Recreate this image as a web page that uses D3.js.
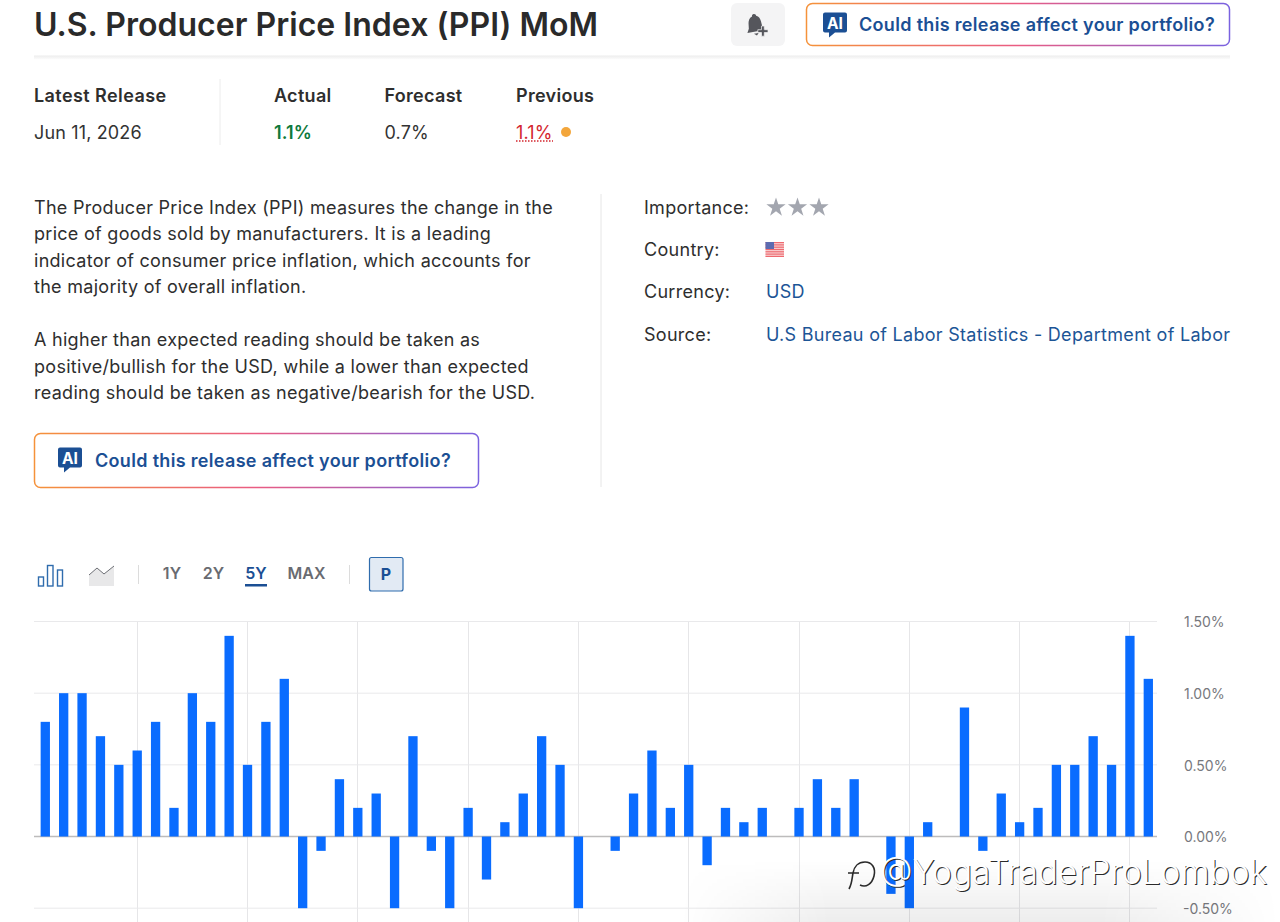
<!DOCTYPE html>
<html>
<head>
<meta charset="utf-8">
<script src="https://cdn.jsdelivr.net/npm/d3@7"></script>
<style>
  html, body { margin: 0; padding: 0; background: #fff; }
  svg { display: block; font-family: Inter, "Noto Sans", sans-serif; }
</style>
</head>
<body>
<svg id="page" width="1280" height="922"></svg>
<script>
// Monthly PPI change, May 2021 to May 2026
const months = [
  "May 21","Jun 21","Jul 21","Aug 21","Sep 21","Oct 21","Nov 21","Dec 21",
  "Jan 22","Feb 22","Mar 22","Apr 22","May 22","Jun 22","Jul 22","Aug 22","Sep 22","Oct 22","Nov 22","Dec 22",
  "Jan 23","Feb 23","Mar 23","Apr 23","May 23","Jun 23","Jul 23","Aug 23","Sep 23","Oct 23","Nov 23","Dec 23",
  "Jan 24","Feb 24","Mar 24","Apr 24","May 24","Jun 24","Jul 24","Aug 24","Sep 24","Oct 24","Nov 24","Dec 24",
  "Jan 25","Feb 25","Mar 25","Apr 25","May 25","Jun 25","Jul 25","Aug 25","Sep 25","Oct 25","Nov 25","Dec 25",
  "Jan 26","Feb 26","Mar 26","Apr 26","May 26"
];
const ppiValues = [
  0.8,1.0,1.0,0.7,0.5,0.6,0.8,0.2,
  1.0,0.8,1.4,0.5,0.8,1.1,-0.5,-0.1,0.4,0.2,0.3,-0.5,
  0.7,-0.1,-0.5,0.2,-0.3,0.1,0.3,0.7,0.5,-0.5,0,-0.1,
  0.3,0.6,0.2,0.5,-0.2,0.2,0.1,0.2,0,0.2,0.4,0.2,
  0.4,0,-0.4,-0.5,0.1,0,0.9,-0.1,0.3,0.1,0.2,0.5,
  0.5,0.7,0.5,1.4,1.1
];
const yTicks = [-0.5, 0, 0.5, 1.0, 1.5];
const gridMonths = ["Oct 21","Apr 22","Oct 22","Apr 23","Oct 23","Apr 24","Oct 24","Apr 25","Oct 25","Apr 26"];

const releaseColumns = [
  { head: "Latest Release", val: "Jun 11, 2026", x: 34, color: "#333", headSpacing: 0.42 },
  { head: "Actual", val: "1.1%", x: 274, color: "#0f7a3d", weight: 600, headSpacing: 0.3 },
  { head: "Forecast", val: "0.7%", x: 384.5, color: "#333", headSpacing: 0.3 },
  { head: "Previous", val: "1.1%", x: 516, color: "#d3262e", headSpacing: 0.3 }
];
const description = [
  ["The Producer Price Index (PPI) measures the change in the", 213.5],
  ["price of goods sold by manufacturers. It is a leading", 239.5],
  ["indicator of consumer price inflation, which accounts for", 266.5],
  ["the majority of overall inflation.", 292.5],
  ["A higher than expected reading should be taken as", 346],
  ["positive/bullish for the USD, while a lower than expected", 372.5],
  ["reading should be taken as negative/bearish for the USD.", 399]
];
const facts = [
  ["Importance:", 213.5, null],
  ["Country:", 256, null],
  ["Currency:", 298, "USD"],
  ["Source:", 340.5, "U.S Bureau of Labor Statistics - Department of Labor"]
];
const ranges = [["1Y", 172], ["2Y", 213.5], ["5Y", 256], ["MAX", 306.5]];

const ink = "#2e2e2e", linkBlue = "#1c5596", navy = "#1b4f94";
const svg = d3.select("#page");
const defs = svg.append("defs");

const grad = defs.append("linearGradient").attr("id", "aiBorder");
[["0%", "#f5923a"], ["50%", "#ea5c83"], ["100%", "#7a62e0"]].forEach(([o, c]) =>
  grad.append("stop").attr("offset", o).attr("stop-color", c));

const fade = defs.append("linearGradient").attr("id", "cornerShade")
  .attr("x1", 0).attr("y1", 0).attr("x2", 0).attr("y2", 1);
fade.append("stop").attr("offset", "0%").attr("stop-color", "#000").attr("stop-opacity", 0);
fade.append("stop").attr("offset", "100%").attr("stop-color", "#000").attr("stop-opacity", 0.07);
const fadeSide = defs.append("linearGradient").attr("id", "cornerMaskFill");
fadeSide.append("stop").attr("offset", "0%").attr("stop-color", "#000");
fadeSide.append("stop").attr("offset", "25%").attr("stop-color", "#fff");
fadeSide.append("stop").attr("offset", "70%").attr("stop-color", "#fff");
fadeSide.append("stop").attr("offset", "100%").attr("stop-color", "#000");
defs.append("mask").attr("id", "cornerMask").attr("maskUnits", "userSpaceOnUse")
  .attr("x", 680).attr("y", 860).attr("width", 600).attr("height", 62)
  .append("rect").attr("x", 680).attr("y", 860).attr("width", 600).attr("height", 62)
  .attr("fill", "url(#cornerMaskFill)");

const headerShade = defs.append("linearGradient").attr("id", "headerShade")
  .attr("x1", 0).attr("y1", 0).attr("x2", 0).attr("y2", 1);
headerShade.append("stop").attr("offset", "0%").attr("stop-color", "#ececec");
headerShade.append("stop").attr("offset", "100%").attr("stop-color", "#fdfdfd");

function text(parent, str, x, y, size, color, weight, spacing) {
  return parent.append("text").attr("x", x).attr("y", y)
    .attr("font-size", size).attr("fill", color).attr("font-weight", weight || 400)
    .attr("letter-spacing", spacing || 0).text(str);
}

// Speech-bubble badge used on both call-to-action buttons
function aiBadge(x, y) {
  const g = svg.append("g").attr("transform", `translate(${x},${y})`);
  g.append("path").attr("fill", navy)
    .attr("d", "M2 0H22a2 2 0 0 1 2 2V18a2 2 0 0 1-2 2H12L6 25V20H2a2 2 0 0 1-2-2V2a2 2 0 0 1 2-2Z");
  text(g, "AI", 12, 16, 15.5, "#fff", 700).attr("text-anchor", "middle");
}
function aiButton(x, y, w, h, tx, ty, bx, by) {
  svg.append("rect").attr("x", x).attr("y", y).attr("width", w).attr("height", h)
    .attr("rx", 6).attr("fill", "#fff").attr("stroke", "url(#aiBorder)").attr("stroke-width", 1.5);
  aiBadge(bx, by);
  text(svg, "Could this release affect your portfolio?", tx, ty, 18, navy, 600, 0.32);
}

// Header
text(svg, "U.S. Producer Price Index (PPI) MoM", 34, 36, 32, "#2a2a2a", 600, 0.03);
svg.append("rect").attr("x", 731).attr("y", 3).attr("width", 54).attr("height", 43)
  .attr("rx", 6).attr("fill", "#f4f4f5");
const bell = svg.append("g").attr("transform", "translate(746,14)").attr("fill", "#55565c");
bell.append("g").attr("transform", "rotate(-10 9 10) scale(1.05)").call(b => {
  b.append("path").attr("d", "M9 0c1.3 0 2 1 2 2 2.6 1 3.4 3.6 3.6 6l.4 5 2 3.6H0l2-3.6.6-5C3 5.6 4 3 7 2c0-1 .7-2 2-2Z");
  b.append("path").attr("d", "M6 18.5h4.5l-2 2.2Z");
});
bell.append("path").attr("d", "M15.5 12h2.8v3.7h3.7v2.8h-3.7v3.7h-2.8v-3.7h-3.7v-2.8h3.7Z")
  .attr("stroke", "#f4f4f5").attr("stroke-width", 0.7);
aiButton(806.5, 3.5, 423, 42, 859, 31, 823, 12.5);
svg.append("rect").attr("x", 34).attr("y", 55.5).attr("width", 1196).attr("height", 4).attr("fill", "url(#headerShade)");

// Latest release row
svg.append("line").attr("x1", 220).attr("x2", 220).attr("y1", 79).attr("y2", 145).attr("stroke", "#ececec");
releaseColumns.forEach(c => {
  text(svg, c.head, c.x, 101.5, 18, ink, 600, c.headSpacing);
  text(svg, c.val, c.x, 139, 18, c.color, c.weight, 0.15);
});
svg.append("line").attr("x1", 516).attr("x2", 553).attr("y1", 141).attr("y2", 141)
  .attr("stroke", "#d3262e").attr("stroke-width", 1.3).attr("stroke-dasharray", "1.5 1.5");
svg.append("circle").attr("cx", 566).attr("cy", 132).attr("r", 5).attr("fill", "#f3a63b");

// Description
description.forEach(([line, y]) => text(svg, line, 34, y, 18, ink, 400, 0.285));
svg.append("line").attr("x1", 601).attr("x2", 601).attr("y1", 194).attr("y2", 487).attr("stroke", "#e6e6e6");
aiButton(34.5, 433.5, 444, 54, 95, 467, 58, 447.5);

// Facts column
facts.forEach(([label, y, value]) => {
  text(svg, label, 644, y, 18, ink, 400, 0.29);
  if (value) text(svg, value, 766, y, 18, linkBlue, 400, 0.29);
});
[776, 797.5, 819].forEach(cx => {
  svg.append("path").attr("transform", `translate(${cx},207.5)`)
    .attr("d", d3.symbol(d3.symbolStar, 115)()).attr("fill", "#a3a6af");
});
const flag = svg.append("g").attr("transform", "translate(765.5,242)");
flag.append("rect").attr("width", 18.5).attr("height", 15).attr("fill", "#f9d5d6");
d3.range(0, 15, 2.3).forEach(y =>
  flag.append("rect").attr("y", y).attr("width", 18.5).attr("height", 1.2).attr("fill", "#ee6a70"));
flag.append("rect").attr("width", 8.5).attr("height", 7).attr("fill", "#5c6bb0");

// Chart toolbar
const barIcon = svg.append("g").attr("fill", "none").attr("stroke", "#2f6cad").attr("stroke-width", 1.4);
[[38.5, 577, 5, 9], [47.5, 565.5, 5.5, 20.5], [57.5, 570, 5, 16]].forEach(([x, y, w, h]) =>
  barIcon.append("rect").attr("x", x).attr("y", y).attr("width", w).attr("height", h));
svg.append("path").attr("fill", "#e8e8e9").attr("d", "M89 586V575L97 568L104 574L114 566V586Z");
svg.append("path").attr("fill", "none").attr("stroke", "#6d6f75").attr("stroke-width", 1)
  .attr("d", "M89 575L97 568L104 574L114 566");
[138.5, 349.5].forEach(x => svg.append("line").attr("x1", x).attr("x2", x)
  .attr("y1", 565).attr("y2", 584).attr("stroke", "#dcdcdc"));
ranges.forEach(([label, x]) => {
  text(svg, label, x, 579, 16, label === "5Y" ? navy : "#696b71", 600, 0.1).attr("text-anchor", "middle");
});
svg.append("rect").attr("x", 245).attr("y", 584).attr("width", 22).attr("height", 2.5).attr("fill", navy);
svg.append("rect").attr("x", 369.5).attr("y", 557.5).attr("width", 33.5).attr("height", 33.5).attr("rx", 2)
  .attr("fill", "#e2eaf4").attr("stroke", "#2f6cad").attr("stroke-width", 1.2);
text(svg, "P", 386, 580, 16, navy, 700).attr("text-anchor", "middle");

// Bar chart
const x = d3.scaleBand().domain(months).range([36.1, 1157.5]).paddingInner(0.494).paddingOuter(0.247);
const y = d3.scaleLinear().domain([-0.5, 1.5]).range([908.2, 621.5]);

const vGrid = svg.append("g").attr("stroke", "#e6e6e8").attr("stroke-width", 1);
vGrid.selectAll("line").data(gridMonths).join("line")
  .attr("x1", d => Math.floor(x(d) + x.bandwidth() / 2) + 0.5)
  .attr("x2", d => Math.floor(x(d) + x.bandwidth() / 2) + 0.5)
  .attr("y1", 622).attr("y2", 922);

const yAxis = d3.axisRight(y).tickValues(yTicks)
  .tickFormat(d => d.toFixed(2) + "%").tickSize(0).tickPadding(0);
const axisG = svg.append("g").attr("transform", "translate(1184,0.8)").call(yAxis);
axisG.select(".domain").remove();
axisG.selectAll("text").attr("font-size", 14).attr("fill", "#77787d")
  .attr("font-family", "Inter, sans-serif").attr("x", d => d < 0 ? -1 : 0);

svg.append("g").selectAll("line").data(yTicks).join("line")
  .attr("x1", 34).attr("x2", 1157).attr("y1", d => y(d)).attr("y2", d => y(d))
  .attr("stroke", d => d === 0 ? "#bdbcbc" : "#e9e9eb").attr("stroke-width", d => d === 0 ? 1.4 : 1);

svg.append("g").attr("fill", "#0a6cff").selectAll("rect")
  .data(months.map((m, i) => ({ m, v: ppiValues[i] })).filter(d => d.v !== 0)).join("rect")
  .attr("x", d => x(d.m)).attr("width", x.bandwidth())
  .attr("y", d => y(Math.max(0, d.v))).attr("height", d => Math.abs(y(d.v) - y(0)));

// Corner shading and account mark over the chart
svg.append("rect").attr("x", 680).attr("y", 860).attr("width", 600).attr("height", 62)
  .attr("fill", "url(#cornerShade)").attr("mask", "url(#cornerMask)");
const mark = svg.append("g");
const handle = "@YogaTraderProLombok";
text(mark, handle, 881, 885, 33.4, "#2a2a2a", 300);
text(mark, handle, 880, 884, 33.4, "#fff", 300);
mark.append("path").attr("fill", "none").attr("stroke", "#2a2a2a").attr("stroke-width", 1.6)
  .attr("d", "M849 889C852 884 852 878 853 873C854 867 858 862 865 862C872 862 876 868 874 876C872 884 866 888 860 885M848 873H859");
</script>
</body>
</html>
